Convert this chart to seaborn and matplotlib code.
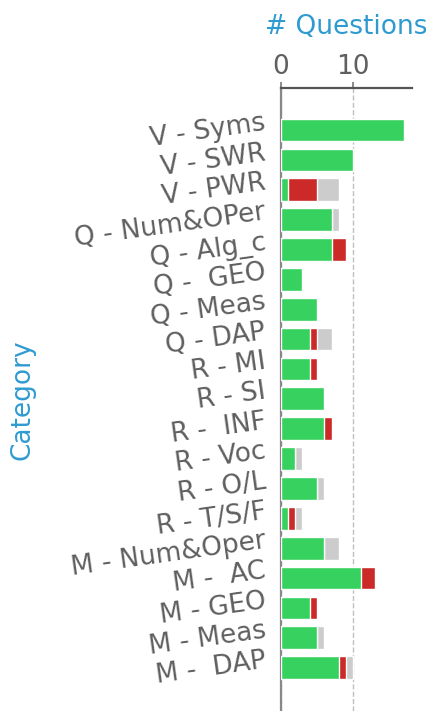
import matplotlib
matplotlib.use('Agg')
import matplotlib.pyplot as plt
import seaborn as sns
import pandas as pd

# Data
categories = ['V - Syms', 'V - SWR', 'V - PWR', 'Q - Num&OPer', 'Q - Alg_c', 'Q -  GEO',
              'Q - Meas', 'Q - DAP', 'R - MI', 'R - SI', 'R -  INF', 'R - Voc', 'R - O/L',
              'R - T/S/F', 'M - Num&Oper', 'M -  AC', 'M - GEO', 'M - Meas', 'M -  DAP']
correct = [17, 10, 1, 7, 7, 3, 5, 4, 4, 6, 6, 2, 5, 1, 6, 11, 4, 5, 8]
wrong = [0, 0, 4, 0, 2, 0, 0, 1, 1, 0, 1, 0, 0, 1, 0, 2, 1, 0, 1]
skipped = [0, 0, 3, 1, 0, 0, 0, 2, 0, 0, 0, 1, 1, 1, 2, 0, 0, 1, 1]

df = pd.DataFrame({'Category': categories, 'correct': correct,
                   'wrong': wrong, 'skipped': skipped})
df['cw'] = df['correct'] + df['wrong']
df['total'] = df['cw'] + df['skipped']

sns.set_style('white')
blue = '#2e9bd0'
gray_txt = '#5f5f5f'

fig = plt.figure(figsize=(4.27, 7.11), dpi=100)
ax = fig.add_axes([0.657, 0.0, 0.307, 0.876])

# overlayed bars: total (skipped), correct+wrong (wrong), correct
sns.barplot(data=df, y='Category', x='total', color='#cccccc', width=0.76,
            saturation=1, ax=ax, orient='h', zorder=2)
sns.barplot(data=df, y='Category', x='cw', color='#cc2929', width=0.76,
            saturation=1, ax=ax, orient='h', zorder=3)
sns.barplot(data=df, y='Category', x='correct', color='#36d15f', width=0.76,
            saturation=1, ax=ax, orient='h', zorder=4)

ax.set_xlim(0, 18)
ax.set_ylim(19.45, -1.4)
ax.set_xticks([0, 10])
ax.xaxis.tick_top()
ax.xaxis.set_label_position('top')
ax.xaxis.grid(True, linestyle='--', color='#c0c0c0', linewidth=1, zorder=0)
ax.set_axisbelow(True)

for s in ['right', 'bottom']:
    ax.spines[s].set_visible(False)
ax.spines['top'].set_color('#555555')
ax.spines['top'].set_linewidth(1.6)
ax.spines['left'].set_color('#888888')
ax.spines['left'].set_linewidth(1.6)

ax.tick_params(axis='x', direction='out', length=4, width=1.2, color='#777777',
               labelsize=19, labelcolor=gray_txt, pad=2)
ax.tick_params(axis='y', length=0, labelsize=19, labelcolor=gray_txt, pad=10)
for lab in ax.get_yticklabels():
    lab.set_rotation(8)
    lab.set_rotation_mode('anchor')
    lab.set_ha('right')
    lab.set_va('baseline')

ax.set_xlabel('# Questions', fontsize=19, color=blue, labelpad=14)
ax.set_ylabel('Category', fontsize=19, color=blue)
ax.yaxis.set_label_coords(-1.87, 0.5)

fig.savefig('out.png', dpi=100)
